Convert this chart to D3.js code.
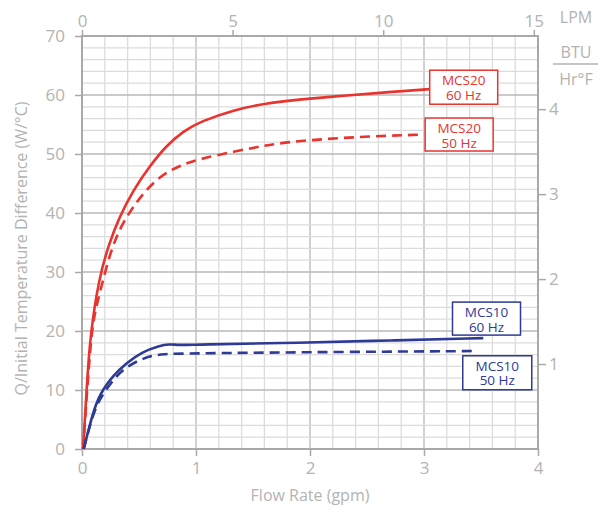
<!DOCTYPE html>
<html>
<head>
<meta charset="utf-8">
<script src="https://cdn.jsdelivr.net/npm/d3@7"></script>
<style>
  body { margin: 0; background: #fff; }
  text { font-family: "Open Sans", "Noto Sans", sans-serif; }
</style>
</head>
<body>
<div id="chart"></div>
<script>
// flow in gpm, capacity in W/°C
const mcs20_60 = [[0.01,0],[0.04,10],[0.07,19],[0.15,29.2],[0.24,34.9],[0.32,39],[0.45,43.9],[0.60,48.1],[0.74,51.4],[0.89,53.9],[1.04,55.5],[1.33,57.5],[1.62,58.6],[1.88,59.2],[2.3,59.9],[2.7,60.5],[3.05,61.0]];
const mcs20_50 = [[0.01,0],[0.045,10],[0.08,19],[0.11,23],[0.17,27.5],[0.25,33.5],[0.34,37.7],[0.44,40.8],[0.54,43.4],[0.68,46.2],[0.86,48.1],[1.04,49.2],[1.33,50.4],[1.62,51.5],[1.88,52.2],[2.4,52.9],[3.0,53.3]];
const mcs10_60 = [[0.015,0],[0.064,3.8],[0.12,7.6],[0.18,10],[0.27,12.4],[0.39,14.6],[0.53,16.5],[0.68,17.5],[0.76,17.8],[0.85,17.6],[0.98,17.7],[1.92,18.0],[2.7,18.4],[3.52,18.8]];
const mcs10_50 = [[0.015,0],[0.065,3.7],[0.12,7.2],[0.2,9.8],[0.31,12.6],[0.415,14.2],[0.52,15.2],[0.61,15.8],[0.71,16.1],[0.91,16.2],[1.9,16.4],[3.43,16.6]];

const series = [
  { name: "MCS20 60 Hz", data: mcs20_60, color: "#e8332f", dash: null },
  { name: "MCS20 50 Hz", data: mcs20_50, color: "#e8332f", dash: "10,6" },
  { name: "MCS10 60 Hz", data: mcs10_60, color: "#2d3a96", dash: null },
  { name: "MCS10 50 Hz", data: mcs10_50, color: "#2d3a96", dash: "10,6" }
];

const xTicks = [0, 1, 2, 3, 4];
const yTicks = [0, 10, 20, 30, 40, 50, 60, 70];
const lpmTicks = [0, 5, 10, 15];
const btuTicks = [1, 2, 3, 4];

const GPM_TO_LPM = 3.785;
const W_PER_BTU_UNIT = 14.4;

const margin = { top: 36, right: 62, bottom: 64, left: 82 };
const W = 600, H = 513;
const width = W - margin.left - margin.right;
const height = H - margin.top - margin.bottom;

const svg = d3.select("#chart").append("svg")
  .attr("width", W).attr("height", H);
const g = svg.append("g").attr("transform", `translate(${margin.left},${margin.top})`);

const x = d3.scaleLinear().domain([0, 4]).range([0, width]);
const y = d3.scaleLinear().domain([0, 70]).range([height, 0]);
const xLpm = d3.scaleLinear().domain([0, 4 * GPM_TO_LPM]).range([0, width]);
const yBtu = d3.scaleLinear().domain([0, 70 / W_PER_BTU_UNIT]).range([height, 0]);

const labelColor = "#b3b3b3";
const borderColor = "#a9a9a9";

// grid: minor every 0.2 gpm / 2 W/°C, major every 1 gpm / 10 W/°C
const grid = g.append("g");
grid.selectAll(".vx").data(d3.range(0, 4.01, 0.2)).enter().append("line")
  .attr("x1", d => x(d)).attr("x2", d => x(d))
  .attr("y1", 0).attr("y2", height)
  .attr("stroke", d => Math.abs(d - Math.round(d)) < 1e-6 ? "#b9b9b9" : "#dcdcdc")
  .attr("stroke-width", 1.3);
grid.selectAll(".hy").data(d3.range(0, 70.01, 2)).enter().append("line")
  .attr("y1", d => y(d)).attr("y2", d => y(d))
  .attr("x1", 0).attr("x2", width)
  .attr("stroke", d => d % 10 === 0 ? "#b9b9b9" : "#dcdcdc")
  .attr("stroke-width", 1.3);

// border
g.append("rect").attr("width", width).attr("height", height)
  .attr("fill", "none").attr("stroke", borderColor).attr("stroke-width", 2);

function styleAxis(sel) {
  sel.select(".domain").remove();
  sel.selectAll(".tick line").attr("stroke", borderColor).attr("stroke-width", 1.5);
  sel.selectAll(".tick text").attr("fill", labelColor).attr("font-size", 17);
}

g.append("g").attr("transform", `translate(0,${height})`)
  .call(d3.axisBottom(x).tickValues(xTicks).tickFormat(d3.format("d")).tickSize(7).tickPadding(6))
  .call(styleAxis);
g.append("g")
  .call(d3.axisLeft(y).tickValues(yTicks).tickSize(7).tickPadding(10))
  .call(styleAxis);
g.append("g")
  .call(d3.axisTop(xLpm).tickValues(lpmTicks).tickFormat(d3.format("d")).tickSize(6).tickPadding(3))
  .call(styleAxis);
g.append("g").attr("transform", `translate(${width},0)`)
  .call(d3.axisRight(yBtu).tickValues(btuTicks).tickFormat(d3.format("d")).tickSize(8).tickPadding(3))
  .call(styleAxis);

// curves
const line = d3.line().x(d => x(d[0])).y(d => y(d[1])).curve(d3.curveBasis);
g.selectAll(".curve").data(series).enter().append("path")
  .attr("d", d => line(d.data))
  .attr("fill", "none")
  .attr("stroke", d => d.color)
  .attr("stroke-width", 2.6)
  .attr("stroke-dasharray", d => d.dash);

// curve labels (box top-left in data units)
const boxes = [
  { s: 0, x0: 3.05, y0: 64.2, w: 68, h: 34 },
  { s: 1, x0: 3.01, y0: 56.1, w: 68, h: 33 },
  { s: 2, x0: 3.25, y0: 24.9, w: 68, h: 33 },
  { s: 3, x0: 3.34, y0: 15.8, w: 69, h: 34 }
];
boxes.forEach(b => {
  const s = series[b.s];
  const parts = s.name.split(" ");
  const bx = x(b.x0), by = y(b.y0);
  const lg = g.append("g").attr("transform", `translate(${bx},${by})`);
  lg.append("rect").attr("width", b.w).attr("height", b.h)
    .attr("fill", "#fff").attr("stroke", s.color).attr("stroke-width", 1.5);
  lg.append("text").attr("x", b.w / 2).attr("y", 15).attr("text-anchor", "middle")
    .attr("fill", s.color).attr("font-size", 13.5).text(parts[0]);
  lg.append("text").attr("x", b.w / 2).attr("y", 29.5).attr("text-anchor", "middle")
    .attr("fill", s.color).attr("font-size", 13.5).text(parts[1] + " " + parts[2]);
});

// axis titles
svg.append("text").attr("x", margin.left + width / 2).attr("y", 501)
  .attr("text-anchor", "middle").attr("fill", labelColor).attr("font-size", 16)
  .text("Flow Rate (gpm)");
svg.append("text")
  .attr("transform", `translate(27,${margin.top + height / 2 + 6}) rotate(-90)`)
  .attr("text-anchor", "middle").attr("fill", labelColor).attr("font-size", 16)
  .text("Q/Initial Temperature Difference (W/°C)");

svg.append("text").attr("x", 576).attr("y", 23).attr("text-anchor", "middle")
  .attr("fill", labelColor).attr("font-size", 16).text("LPM");
svg.append("text").attr("x", 576).attr("y", 58).attr("text-anchor", "middle")
  .attr("fill", labelColor).attr("font-size", 16).text("BTU");
svg.append("line").attr("x1", 553).attr("x2", 598).attr("y1", 64).attr("y2", 64)
  .attr("stroke", labelColor).attr("stroke-width", 1.5);
svg.append("text").attr("x", 576).attr("y", 85).attr("text-anchor", "middle")
  .attr("fill", labelColor).attr("font-size", 16).text("Hr°F");
</script>
</body>
</html>
